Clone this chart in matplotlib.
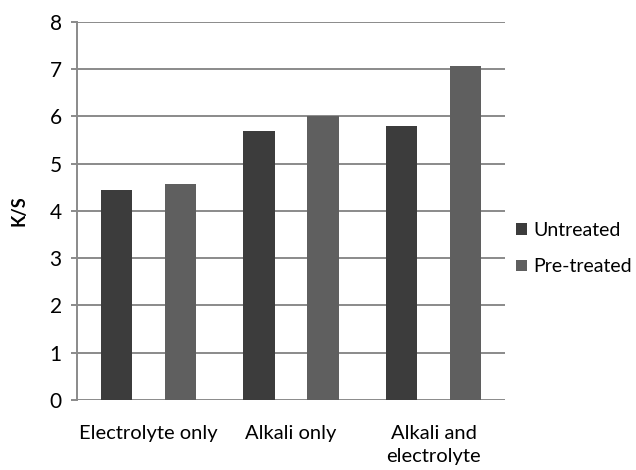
import numpy as np
import matplotlib
matplotlib.use("Agg")
import matplotlib.pyplot as plt

plt.rcParams['font.family'] = ['Lato', 'DejaVu Sans']

categories = ['Electrolyte only', 'Alkali only', 'Alkali and\nelectrolyte']
untreated = [4.45, 5.69, 5.80]
pretreated = [4.57, 6.01, 7.07]
series_names = ['Untreated', 'Pre-treated']

fig = plt.figure(figsize=(6.36, 4.70), dpi=100)
ax = fig.add_axes([0.121, 0.149, 0.673, 0.805])

x = np.arange(len(categories))
w = 0.22
off = 0.224
ax.bar(x - off, untreated, w, color='#3c3c3c', label=series_names[0], zorder=3)
ax.bar(x + off, pretreated, w, color='#5f5f5f', label=series_names[1], zorder=3)

ax.set_xlim(-0.5, 2.5)
ax.set_ylim(0, 8)
ax.set_yticks(range(0, 9))
ax.yaxis.grid(True, color='#8a8a8a', linewidth=1.4, zorder=0)
ax.set_axisbelow(True)

for s in ['top', 'right', 'bottom']:
    ax.spines[s].set_visible(False)
ax.spines['left'].set_color('#8a8a8a')
ax.spines['left'].set_linewidth(1.4)

ax.tick_params(axis='y', length=4, width=1.4, color='#8a8a8a', labelsize=15, pad=7)
ax.tick_params(axis='x', length=0, labelsize=14.5, pad=18)
ax.set_xticks(x)
ax.set_xticklabels(categories, linespacing=1.45)
ax.set_ylabel('K/S', fontsize=13, fontweight='bold', labelpad=16)

ax.legend(loc='center left', bbox_to_anchor=(1.012, 0.40), frameon=False,
          fontsize=14, handlelength=0.55, handleheight=0.55, handletextpad=0.35,
          labelspacing=1.0, borderaxespad=0.0, borderpad=0.3)

fig.savefig('out.png', dpi=100)
